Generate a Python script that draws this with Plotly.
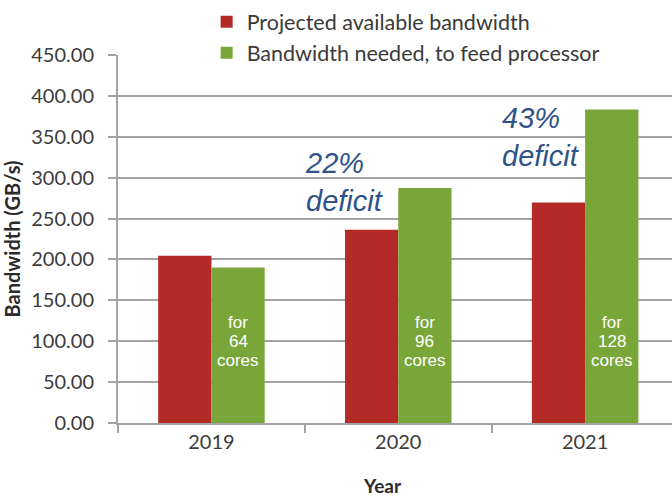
import plotly.graph_objects as go

# Data
years = ["2019", "2020", "2021"]
available_bw = [204.4, 236.2, 269.7]
needed_bw = [190.0, 287.3, 383.3]
core_counts = [64, 96, 128]
deficit_labels = ["", "22%<br>deficit", "43%<br>deficit"]
deficit_y = [0, 295, 350]
y_ticks = [0, 50, 100, 150, 200, 250, 300, 350, 400, 450]

RED = "#b42a27"
GREEN = "#79a638"
GRID = "#a3a3a3"
TICK_FONT = dict(family="Lato", size=20, color="#3c3c3c")
BAR_GAP = 0.43

fig = go.Figure()
fig.add_trace(go.Bar(
    x=years, y=available_bw, name="Projected available bandwidth",
    marker=dict(color=RED, line=dict(width=0)),
))
fig.add_trace(go.Bar(
    x=years, y=needed_bw, name="Bandwidth needed, to feed processor",
    marker=dict(color=GREEN, line=dict(width=0)),
))

annotations = []
# "for N cores" inside each green bar
bar_offset = (1 - BAR_GAP) / 4
for i, n in enumerate(core_counts):
    for line, shift in (("for", 18.5), (str(n), 0), ("cores", -19)):
        annotations.append(dict(
            x=i + bar_offset, y=100, xref="x", yref="y", text=line,
            showarrow=False, yshift=shift,
            font=dict(family="Liberation Sans, Arial", size=17, color="white"),
        ))

# deficit callouts
for i, (lab, yv) in enumerate(zip(deficit_labels, deficit_y)):
    if lab:
        annotations.append(dict(
            x=i - 0.5 + (-0.01 if i == 1 else 0.045), y=yv, xref="x", yref="y",
            text=f"<i>{lab}</i>", showarrow=False, xanchor="left", align="left",
            font=dict(family="Liberation Sans, Arial", size=29, color="#2f5287"),
        ))

annotations.append(dict(
    x=0.478, y=0, xref="paper", yref="paper", yshift=-76, text="<b>Year</b>",
    showarrow=False, font=dict(family="Lato", size=19, color="#2a2a2a"),
))

fig.update_layout(
    width=672, height=500,
    margin=dict(l=118, r=0, t=55, b=77, autoexpand=False),
    paper_bgcolor="white", plot_bgcolor="white",
    barmode="group", bargap=BAR_GAP, bargroupgap=0,
    showlegend=True,
    legend=dict(
        x=0.16, y=1.146, xanchor="left", yanchor="top",
        font=dict(family="Lato", size=21.5, color="#3a3a3a"),
        bgcolor="rgba(0,0,0,0)", tracegroupgap=0, itemwidth=30,
    ),
    annotations=annotations,
)

fig.update_xaxes(
    range=[-0.5, 2.465], showgrid=False,
    showline=True, linecolor=GRID, linewidth=2,
    ticks="outside", tickson="boundaries", ticklen=8, tickcolor=GRID, tickwidth=2,
    tickfont=TICK_FONT,
)
fig.update_yaxes(
    range=[0, 450], tickvals=y_ticks, tickformat=".2f",
    showgrid=True, gridcolor=GRID, gridwidth=2, zeroline=False,
    showline=True, linecolor=GRID, linewidth=2,
    ticks="outside", ticklen=8, tickcolor=GRID, tickwidth=2,
    tickfont=TICK_FONT, ticklabelstandoff=10,
    title=dict(text="<b>Bandwidth (GB/s)</b>", standoff=6,
               font=dict(family="Lato", size=20, color="#2a2a2a")),
)

fig.write_html("out.html")
